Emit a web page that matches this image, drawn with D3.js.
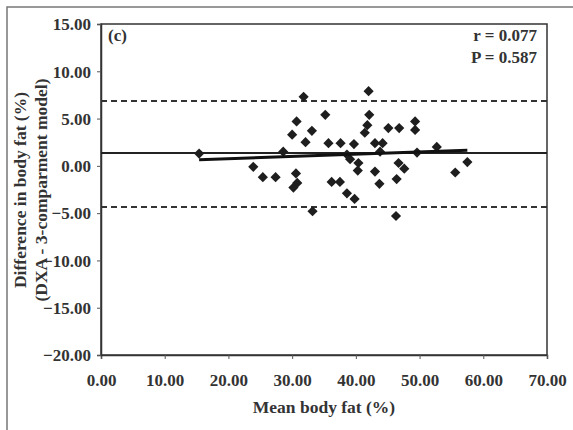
<!DOCTYPE html>
<html>
<head>
<meta charset="utf-8">
<script src="https://cdn.jsdelivr.net/npm/d3@7/dist/d3.min.js"></script>
<style>
  html, body { margin: 0; padding: 0; background: #fff; }
  svg text { font-family: "Liberation Serif", "Times New Roman", serif; font-weight: bold; fill: #333; }
</style>
</head>
<body>
<svg id="chart" width="573" height="430"></svg>
<script>
// Data: mean body fat (%) vs difference (DXA - 3-compartment model)
const meanFat = [15.4, 23.9, 25.4, 27.4, 28.6, 30.0, 30.7, 31.8, 32.1, 33.1,
                 35.2, 35.7, 37.6, 39.7, 30.6, 30.8, 30.2, 33.2, 36.2, 37.5,
                 38.6, 39.8, 38.6, 39.1, 40.4, 40.3, 41.4, 41.8, 42.1, 42.0,
                 43.0, 44.2, 43.8, 43.0, 43.7, 45.1, 46.8, 46.7, 47.6, 46.4,
                 46.3, 49.3, 49.3, 49.6, 52.7, 55.6, 57.5];
const diffFat = [1.3, -0.1, -1.2, -1.2, 1.5, 3.3, 4.7, 7.3, 2.5, 3.7,
                 5.4, 2.4, 2.4, 2.3, -0.8, -1.8, -2.3, -4.8, -1.7, -1.7,
                 -2.9, -3.5, 1.2, 0.7, 0.3, -0.5, 3.5, 4.3, 5.4, 7.9,
                 2.4, 2.4, 1.5, -0.6, -1.9, 4.0, 4.0, 0.3, -0.3, -1.4,
                 -5.3, 4.7, 3.8, 1.4, 2.0, -0.7, 0.4];
const meanDiff = 1.35;
const upperLimit = 6.85;
const lowerLimit = -4.35;
const regX = [15.4, 57.5];
const regY = [0.65, 1.65];
const xTicks = [0, 10, 20, 30, 40, 50, 60, 70];
const yTicks = [15, 10, 5, 0, -5, -10, -15, -20];
const panelLabel = "(c)";
const statLines = ["r = 0.077", "P = 0.587"];
const xTitle = "Mean body fat (%)";
const yTitleLines = ["Difference in body fat (%)", "(DXA - 3-comparment model)"];

const svg = d3.select("#chart");
const L = 101, R = 547, T = 24, B = 355;
const x = d3.scaleLinear().domain([0, 70]).range([L, R]);
const y = d3.scaleLinear().domain([-20, 15]).range([B, T]);
const fmt = d3.format(".2f");

// outer figure frame
svg.append("rect").attr("x", 7).attr("y", 7).attr("width", 600).attr("height", 600)
  .attr("fill", "none").attr("stroke", "#777").attr("stroke-width", 1.5);

// plot box
svg.append("rect").attr("x", L).attr("y", T).attr("width", R - L).attr("height", B - T)
  .attr("fill", "none").attr("stroke", "#333").attr("stroke-width", 1.5);

// axes
const xAxis = svg.append("g").attr("transform", `translate(0,${B})`)
  .call(d3.axisBottom(x).tickValues(xTicks).tickFormat(fmt).tickSize(4).tickPadding(15));
const yAxis = svg.append("g").attr("transform", `translate(${L},0)`)
  .call(d3.axisLeft(y).tickValues(yTicks).tickFormat(fmt).tickSize(4).tickPadding(6));
[xAxis, yAxis].forEach(g => {
  g.select(".domain").attr("stroke", "#333").attr("stroke-width", 1.5);
  g.selectAll(".tick line").attr("stroke", "#555");
  g.selectAll(".tick text").style("font-size", "17px").style("font-family", "'Liberation Serif', serif")
    .style("font-weight", "bold").attr("fill", "#333");
});
yAxis.selectAll(".tick text").attr("dy", "0.34em");

// limit lines
[upperLimit, lowerLimit].forEach(v => {
  svg.append("line").attr("x1", x(0)).attr("x2", x(70)).attr("y1", y(v)).attr("y2", y(v))
    .attr("stroke", "#333").attr("stroke-width", 2).attr("stroke-dasharray", "6,4");
});
// mean line
svg.append("line").attr("x1", x(0)).attr("x2", x(70)).attr("y1", y(meanDiff)).attr("y2", y(meanDiff))
  .attr("stroke", "#222").attr("stroke-width", 2);

// points
const pts = meanFat.map((m, i) => [m, diffFat[i]]);
const sym = d3.symbol().type(d3.symbolSquare).size(52);
svg.append("g").selectAll("path").data(pts).join("path")
  .attr("d", sym)
  .attr("transform", d => `translate(${x(d[0])},${y(d[1])}) rotate(45)`)
  .attr("fill", "#1e1e1e");

// regression line
svg.append("line").attr("x1", x(regX[0])).attr("x2", x(regX[1]))
  .attr("y1", y(regY[0])).attr("y2", y(regY[1]))
  .attr("stroke", "#111").attr("stroke-width", 3);

// annotations
svg.append("text").attr("x", 108).attr("y", 41).style("font-size", "17px").text(panelLabel);
statLines.forEach((s, i) => {
  svg.append("text").attr("x", 537).attr("y", 41 + i * 22).attr("text-anchor", "end")
    .style("font-size", "17px").text(s);
});

// axis titles
svg.append("text").attr("x", 324).attr("y", 413).attr("text-anchor", "middle")
  .style("font-size", "17.5px").text(xTitle);
yTitleLines.forEach((s, i) => {
  svg.append("text").attr("transform", `translate(${26 + i * 21},190) rotate(-90)`)
    .attr("text-anchor", "middle").style("font-size", "17.5px").text(s);
});
</script>
</body>
</html>
